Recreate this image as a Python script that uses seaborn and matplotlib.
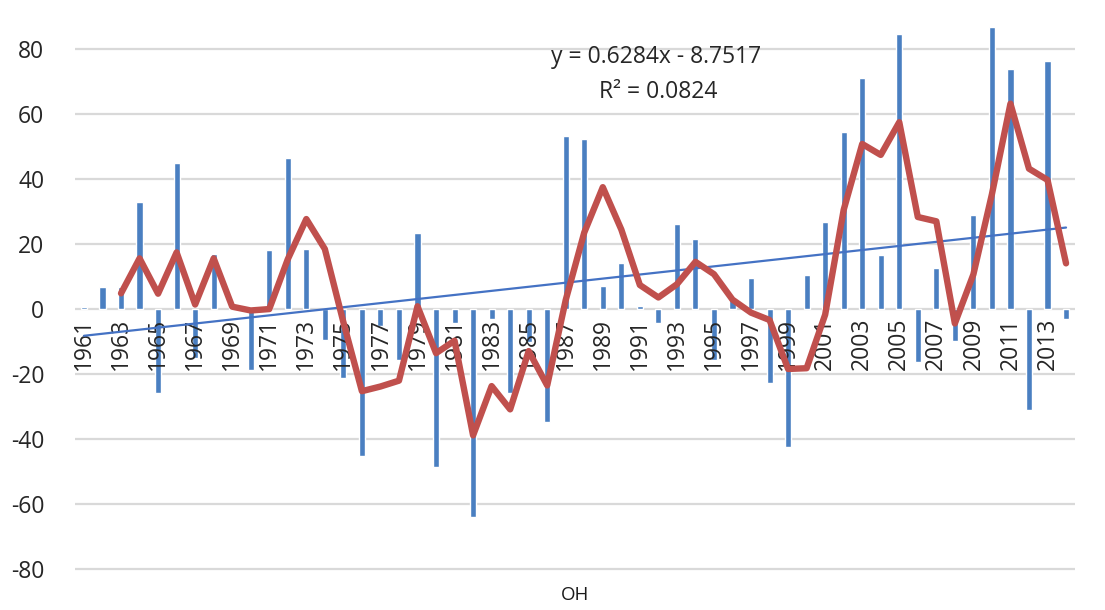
"""Annual anomaly bars with 3-year moving average and linear trend."""

import numpy as np
import pandas as pd
import matplotlib

matplotlib.use("Agg")
import matplotlib.pyplot as plt
import seaborn as sns

years = list(range(1961, 2015))
values = [
    0.8, 7.0, 7.0, 33.1, -25.6, 45.1, -15.0, 17.0, 0.5, -18.5,
    18.3, 46.5, 18.6, -9.4, -21.0, -45.1, -5.1, -15.6, 23.6, -48.4,
    -4.1, -63.8, -2.9, -25.6, -10.0, -34.6, 53.3, 52.3, 7.2, 14.2,
    1.1, -4.3, 26.4, 21.8, -15.7, 2.9, 9.8, -22.5, -42.3, 10.5,
    26.9, 54.5, 71.3, 16.8, 84.7, -16.2, 12.8, -9.6, 29.1, 86.8,
    74.0, -30.9, 76.4, -3.0,
]
trend_slope = 0.6284
trend_intercept = -8.7517
r_squared = 0.0824
x_title = "OH"

df = pd.DataFrame({"year": years, "value": values})
df["pos"] = np.arange(len(df))
df["ma3"] = df["value"].rolling(3).mean()

sns.set_style("white")
plt.rcParams["font.family"] = ["Open Sans", "DejaVu Sans"]
plt.rcParams["axes.unicode_minus"] = False

fig = plt.figure(figsize=(11.05, 6.1), dpi=100)
ax = fig.add_axes([74.7 / 1105, 0, (1075.3 - 74.7) / 1105, 1])

# gridlines first so everything sits on top
for yv in range(-80, 81, 20):
    ax.axhline(yv, color="#d9d9d9", lw=1.6, zorder=0)

sns.barplot(data=df, x="year", y="value", color="#4a7fc1", width=0.33,
            saturation=1, ax=ax, zorder=2)

# linear trend from the stated equation (x = 1..n)
ax.plot(df["pos"], trend_slope * (df["pos"] + 1) + trend_intercept,
        color="#4472c4", lw=1.6, zorder=3)

sns.lineplot(data=df.dropna(), x="pos", y="ma3", color="#c0504d", lw=4.6,
             ax=ax, zorder=4)

# category labels sit on the zero line, like Excel
ax.spines["bottom"].set_position(("data", 0))
for s in ax.spines.values():
    s.set_visible(False)
ax.set_axisbelow(False)  # labels above bars, below the lines

ax.set_xlim(-0.5, len(df) - 0.5)
ax.set_ylim(-92.5, 95.2)
ax.set_yticks(range(-80, 81, 20))
ax.set_xticks(df["pos"][::2])
ax.set_xticklabels([str(y) for y in years[::2]], rotation=90, fontsize=16.5,
                   color="#262626", va="top")
ax.tick_params(axis="y", labelsize=16.5, labelcolor="#262626", length=0,
               pad=22)
ax.tick_params(axis="x", length=0, pad=6)
ax.set_xlabel("")
ax.set_ylabel("")

fig.text(656 / 1105, 1 - 57 / 610, f"y = {trend_slope}x - {abs(trend_intercept)}",
         ha="center", va="center", fontsize=16.5, color="#262626")
fig.text(658 / 1105, 1 - 92 / 610, f"R² = {r_squared}",
         ha="center", va="center", fontsize=16.5, color="#262626")
fig.text(575 / 1105, 1 - 595 / 610, x_title, ha="center", va="center",
         fontsize=13.5, color="#1a1a1a")

fig.savefig("out.png", dpi=100)
